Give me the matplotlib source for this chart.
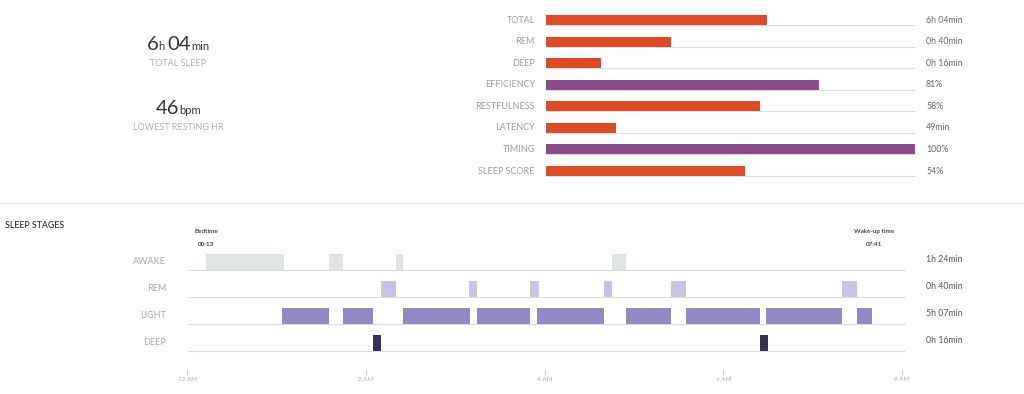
import matplotlib
matplotlib.use("Agg")
from matplotlib import pyplot as plt
from matplotlib.transforms import blended_transform_factory
from matplotlib.offsetbox import TextArea, HPacker, AnchoredOffsetbox
from matplotlib.lines import Line2D

# summary bars
bar_labels = ["TOTAL", "REM", "DEEP", "EFFICIENCY", "RESTFULNESS", "LATENCY", "TIMING", "SLEEP SCORE"]
bar_scores = [60, 34, 15, 74, 58, 19, 100, 54]
bar_values = ["6h 04min", "0h 40min", "0h 16min", "81%", "58%", "49min", "100%", "54%"]

# sleep stages, periods as (start, end) in minutes after midnight
stages = ["AWAKE", "REM", "LIGHT", "DEEP"]
stage_totals = ["1h 24min", "0h 40min", "5h 07min", "0h 16min"]
awake_periods = [(13, 65), (95, 105), (140, 145), (285, 295)]
rem_periods = [(130, 140), (189, 195), (230, 236), (280, 285), (325, 335), (440, 450)]
light_periods = [(64, 95), (105, 125), (145, 190), (195, 230), (235, 280),
                 (295, 325), (335, 385), (389, 440), (450, 460)]
deep_periods = [(125, 130), (385, 390)]
bedtime_min, bedtime_label = 13, "00:13"
wake_min, wake_label = 461, "07:41"
tick_minutes = [0, 120, 240, 360, 480]
tick_labels = ["12 AM", "2 AM", "4 AM", "6 AM", "8 AM"]

total_sleep = ("6", "h", "04", "min")
lowest_hr = ("46", "bpm")

W, H = 1024, 394
plt.rcParams['font.family'] = ['Lato', 'DejaVu Sans']

ORANGE = '#DF4A26'
PURPLE = '#8E4A8E'
purple_rows = {"EFFICIENCY", "TIMING"}
stage_colors = ['#DEE4E2', '#C9C4E4', '#928AC4', '#3A3054']
LINE = '#dcdcdc'

fig = plt.figure(figsize=(W / 100, H / 100), dpi=100)


def px_axes(left, top, right, bottom):
    return fig.add_axes([left / W, 1 - bottom / H, (right - left) / W, (bottom - top) / H])


def big_number(parts, x, y, caption, cy):
    kids = []
    for i, p in enumerate(parts):
        size = 14.5 if i % 2 == 0 else 8
        kids.append(TextArea(p, textprops=dict(fontsize=size, color='#333333')))
        if i % 2 == 1 and i < len(parts) - 1:
            kids.append(TextArea(" ", textprops=dict(fontsize=7)))
    box = HPacker(children=kids, align="baseline", pad=0, sep=0)
    anch = AnchoredOffsetbox(loc='center', child=box, pad=0, borderpad=0, frameon=False,
                             bbox_to_anchor=(x / W, 1 - y / H), bbox_transform=fig.transFigure)
    fig.add_artist(anch)
    fig.text(x / W, 1 - cy / H, caption, ha='center', va='center', fontsize=6.5, color='#b0b0b0')


big_number(total_sleep, 178, 45, "TOTAL SLEEP", 63)
big_number(lowest_hr, 178, 108, "LOWEST RESTING HR", 128)

# top summary bars
ax = px_axes(546, 8, 915, 182)
n = len(bar_labels)
ys = list(range(n))
cols = [PURPLE if l in purple_rows else ORANGE for l in bar_labels]
ax.barh(ys, bar_scores, height=0.46, color=cols, zorder=2)
ax.hlines([y + 0.23 for y in ys], 0, 100, color=LINE, lw=0.8, zorder=1)
ax.set_xlim(0, 100)
ax.set_ylim(7.51, -0.56)
ax.axis('off')
tr = blended_transform_factory(ax.transAxes, ax.transData)
for y, lab, val in zip(ys, bar_labels, bar_values):
    ax.text(-0.03, y, lab, transform=tr, ha='right', va='center', fontsize=6.5, color='#9c9c9c')
    ax.text(1.03, y, val, transform=tr, ha='left', va='center', fontsize=6.3, color='#666666')

fig.add_artist(Line2D([0, 1], [1 - 203 / H, 1 - 203 / H], transform=fig.transFigure,
                      color='#ececec', lw=0.8))
fig.text(5 / W, 1 - 225 / H, "SLEEP STAGES", ha='left', va='center', fontsize=6.3,
         color='#333333', fontweight='semibold')

# sleep stage timeline
ax2 = px_axes(187, 245, 902, 369)
periods = [awake_periods, rem_periods, light_periods, deep_periods]
for i, (segs, c) in enumerate(zip(periods, stage_colors)):
    ax2.broken_barh([(s, e - s) for s, e in segs], (i - 0.6, 0.6), facecolor=c, zorder=2)
ax2.hlines(range(len(stages)), 0, 482, color=LINE, lw=0.8, zorder=1, clip_on=False)
ax2.set_xlim(0, 480)
ax2.set_ylim(3.67, -0.93)
for s in ax2.spines.values():
    s.set_visible(False)
ax2.set_yticks([])
ax2.set_xticks(tick_minutes)
ax2.set_xticklabels(tick_labels, fontsize=4.5, color='#aaaaaa')
ax2.tick_params(axis='x', length=4, width=0.5, color='#bbbbbb', pad=1.5)
tr2 = blended_transform_factory(ax2.transAxes, ax2.transData)
for i, (lab, tot) in enumerate(zip(stages, stage_totals)):
    ax2.text(-0.029, i - 0.32, lab, transform=tr2, ha='right', va='center', fontsize=6.5, color='#a8a8a8')
    ax2.text(1.034, i - 0.38, tot, transform=tr2, ha='left', va='center', fontsize=6.3, color='#555555')

tr3 = blended_transform_factory(ax2.transData, fig.transFigure)
for m, title, t in [(bedtime_min, "Bedtime", bedtime_label), (wake_min, "Wake-up time", wake_label)]:
    ax2.text(m, 1 - 231 / H, title, transform=tr3, ha='center', va='center', fontsize=4.6,
             color='#333333', fontweight='semibold')
    ax2.text(m, 1 - 244 / H, t, transform=tr3, ha='center', va='center', fontsize=4.6,
             color='#333333', fontweight='semibold')

fig.savefig("out.png", dpi=100, facecolor='white')
